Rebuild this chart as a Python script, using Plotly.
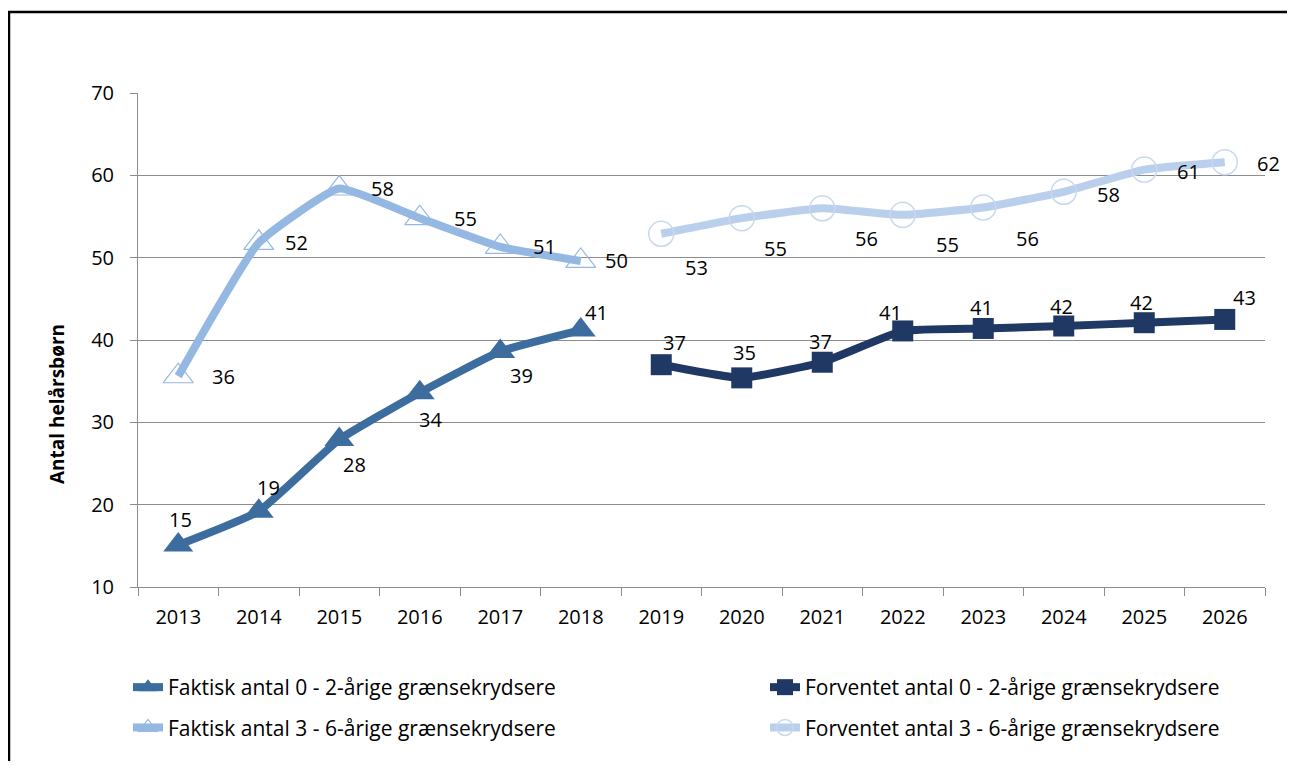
import plotly.graph_objects as go

years = [str(y) for y in range(2013, 2027)]
faktisk_years = years[:6]
forvent_years = years[6:]

faktisk_0_2 = [15.1, 19.2, 27.9, 33.6, 38.6, 41.2]
faktisk_3_6 = [35.6, 51.8, 58.4, 54.8, 51.3, 49.6]
forvent_0_2 = [37.0, 35.4, 37.3, 41.1, 41.4, 41.7, 42.1, 42.5]
forvent_3_6 = [52.9, 54.8, 56.0, 55.2, 56.1, 58.0, 60.7, 61.6]

# printed data labels as shown in the chart
lbl_f02 = ["15", "19", "28", "34", "39", "41"]
lbl_f36 = ["36", "52", "58", "55", "51", "50"]
lbl_v02 = ["37", "35", "37", "41", "41", "42", "42", "43"]
lbl_v36 = ["53", "55", "56", "55", "56", "58", "61", "62"]

# label offsets in pixels (dx, dy) per point
off_f02 = [(2, -26), (10, -24), (15, 25), (11, 27), (21, 24), (16, -18)]
off_f36 = [(45, 0), (38, 0), (43, 0), (46, 0), (44, 0), (36, 0)]
off_v02 = [(13, -22), (3, -25), (-2, -21), (-12, -18), (-2, -21), (-2, -20), (-3, -20), (20, -22)]
off_v36 = [(35, 34), (34, 30), (44, 30), (45, 30), (44, 31), (45, 3), (44, 2), (44, 1)]

c_f02 = "#3D6D9E"
c_f36 = "#95B8E2"
c_v02 = "#1F3864"
c_v36 = "#B9CFEB"

FONT = "Open Sans"
FS = 20
LW = 8
SMOOTH = 0.4

fig = go.Figure()

fig.add_trace(go.Scatter(
    x=faktisk_years, y=faktisk_0_2, mode="lines+markers",
    name="Faktisk antal 0 - 2-årige grænsekrydsere",
    line=dict(color=c_f02, width=LW, shape="spline", smoothing=SMOOTH),
    marker=dict(symbol="triangle-up", size=26, color=c_f02),
    legend="legend", legendgroup="a"))
fig.add_trace(go.Scatter(
    x=faktisk_years, y=faktisk_3_6, mode="lines+markers",
    name="Faktisk antal 3 - 6-årige grænsekrydsere",
    line=dict(color=c_f36, width=LW, shape="spline", smoothing=SMOOTH),
    marker=dict(symbol="triangle-up-open", size=26, color=c_f36, line=dict(width=1.2)),
    legend="legend", legendgroup="b"))
fig.add_trace(go.Scatter(
    x=forvent_years, y=forvent_0_2, mode="lines+markers",
    name="Forventet antal 0 - 2-årige grænsekrydsere",
    line=dict(color=c_v02, width=LW, shape="spline", smoothing=SMOOTH),
    marker=dict(symbol="square", size=21, color=c_v02),
    legend="legend2", legendgroup="c"))
fig.add_trace(go.Scatter(
    x=forvent_years, y=forvent_3_6, mode="lines+markers",
    name="Forventet antal 3 - 6-årige grænsekrydsere",
    line=dict(color=c_v36, width=LW, shape="spline", smoothing=SMOOTH),
    marker=dict(symbol="circle-open", size=25, color="#C9D8EF", line=dict(width=1.5)),
    legend="legend2", legendgroup="d"))

# page body has an 8px margin; positions below are in screen pixels
OFF = 8
W, H = 1280, 754
L, T = 138 - OFF, 93 - OFF
pw, ph = 1265 - 138, 587 - 93
R = W - L - pw
B = H - T - ph

def px_x(p):
    return (p - OFF - L) / pw

def px_y(p):
    return (T + ph - (p - OFF)) / ph

annotations = []
for xs, ys, labels, offs in [(faktisk_years, faktisk_0_2, lbl_f02, off_f02),
                             (faktisk_years, faktisk_3_6, lbl_f36, off_f36),
                             (forvent_years, forvent_0_2, lbl_v02, off_v02),
                             (forvent_years, forvent_3_6, lbl_v36, off_v36)]:
    for x, y, lab, (dx, dy) in zip(xs, ys, labels, offs):
        annotations.append(dict(x=years.index(x), y=y, xref="x", yref="y", text=lab,
                                showarrow=False, xshift=dx, yshift=-dy,
                                font=dict(family=FONT, size=FS, color="#000000")))

annotations.append(dict(text="<b>Antal helårsbørn</b>", textangle=-90, showarrow=False,
                        xref="paper", yref="paper", x=px_x(57), y=px_y(404),
                        xanchor="center", yanchor="middle",
                        font=dict(family=FONT, size=19, color="#000000")))

border_path = "M {:.5f},{:.5f} L {:.5f},{:.5f} L {:.5f},{:.5f}".format(
    px_x(9), px_y(761), px_x(9), px_y(12), px_x(1287), px_y(12))
shapes = [
    dict(type="path", xref="paper", yref="paper", path=border_path,
         line=dict(color="#000000", width=2.5), fillcolor="rgba(0,0,0,0)"),
]

fig.update_layout(
    width=W, height=H,
    margin=dict(l=L, r=R, t=T, b=B),
    paper_bgcolor="#FFFFFF", plot_bgcolor="#FFFFFF",
    font=dict(family=FONT, size=FS, color="#000000"),
    annotations=annotations,
    shapes=shapes,
    xaxis=dict(type="category", categoryorder="array", categoryarray=years,
               range=[-0.5, len(years) - 0.5], autorange=False,
               tickson="boundaries", ticks="outside", ticklen=8, tickcolor="#8C8C8C",
               showline=True, linecolor="#8C8C8C", linewidth=1, showgrid=False,
               tickangle=0,
               tickfont=dict(family=FONT, size=FS), ticklabelstandoff=12),
    yaxis=dict(range=[10, 70], dtick=10, ticks="outside", ticklen=7, tickcolor="#8C8C8C",
               showline=True, linecolor="#8C8C8C", linewidth=1,
               showgrid=True, gridcolor="#8C8C8C", gridwidth=1, zeroline=False,
               tickfont=dict(family=FONT, size=FS), ticklabelstandoff=12),
    legend=dict(x=px_x(128), y=px_y(667), xanchor="left", yanchor="top",
                orientation="v", traceorder="grouped", tracegroupgap=10,
                font=dict(family=FONT, size=21), bgcolor="rgba(0,0,0,0)"),
    legend2=dict(x=px_x(765), y=px_y(667), xanchor="left", yanchor="top",
                 orientation="v", traceorder="grouped", tracegroupgap=10,
                 font=dict(family=FONT, size=21), bgcolor="rgba(0,0,0,0)"),
)

fig.write_html("out.html")
